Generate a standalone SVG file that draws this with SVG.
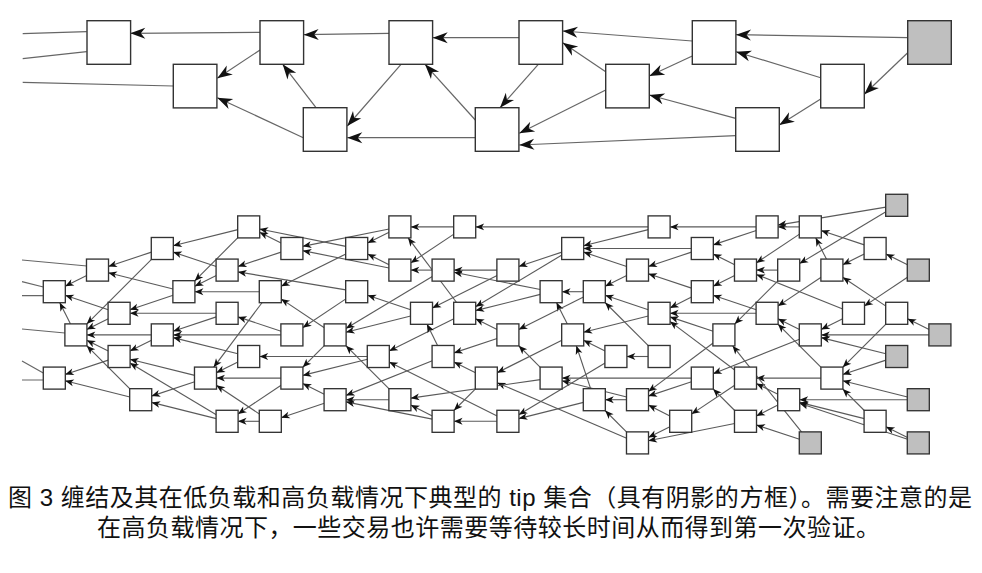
<svg xmlns="http://www.w3.org/2000/svg" width="982" height="573" viewBox="0 0 982 573">
<style>
  .box{fill:#fff;stroke:#333;stroke-width:1.4}
  .tip{fill:#bfbfbf}
  .e{stroke:#666;stroke-width:1.2;fill:none}
  .e.a{marker-end:url(#hb)}
  .sb{fill:#fff;stroke:#333;stroke-width:0.062}
  .sb.tip{fill:#bfbfbf}
  .se{stroke:#5a5a5a;stroke-width:0.052;fill:none;marker-end:url(#hs)}
  .cap{font-family:"Liberation Sans","Noto Sans CJK SC",sans-serif;font-size:24px;fill:#111}
</style>
<defs>
  <marker id="hb" markerUnits="userSpaceOnUse" orient="auto" markerWidth="16" markerHeight="12" style="overflow:visible">
    <path d="M0,0 L-15,-5.5 L-10.5,0 L-15,5.5 Z" fill="#111"/>
  </marker>
  <marker id="hs" markerUnits="userSpaceOnUse" orient="auto" markerWidth="1" markerHeight="1" style="overflow:visible">
    <path d="M0,0 L-0.4,-0.16 L-0.29,0 L-0.4,0.16 Z" fill="#111"/>
  </marker>
</defs>
<rect width="982" height="573" fill="#fff"/>

<!-- low load tangle: connectors -->
<g id="low-edges">
  <path class="e" d="M22.7,33.7 L86.7,31.7 M22.7,58.7 L86.7,51.7 M22.7,82.3 L173.3,86"/>
  <line class="e a" x1="260" y1="32.3" x2="130.3" y2="33.3"/>
  <line class="e a" x1="389" y1="33.3" x2="303.7" y2="34.7"/>
  <line class="e a" x1="519" y1="37.7" x2="432.7" y2="37.7"/>
  <line class="e a" x1="260" y1="50" x2="217.3" y2="78.3"/>
  <line class="e a" x1="303.3" y1="137.7" x2="217.3" y2="97.7"/>
  <line class="e a" x1="316" y1="107.7" x2="282.7" y2="64.3"/>
  <line class="e a" x1="401" y1="64.3" x2="347.3" y2="126"/>
  <line class="e a" x1="475.3" y1="120" x2="425" y2="64.3"/>
  <line class="e a" x1="475.3" y1="137.7" x2="347.3" y2="137.7"/>
  <line class="e a" x1="692.3" y1="41" x2="562.7" y2="31"/>
  <line class="e a" x1="907.7" y1="37.7" x2="736" y2="34.7"/>
  <line class="e a" x1="538.3" y1="64.3" x2="500" y2="107.7"/>
  <line class="e a" x1="605.7" y1="71.7" x2="562.7" y2="42.7"/>
  <line class="e a" x1="692.3" y1="56" x2="649.3" y2="76"/>
  <line class="e a" x1="605.7" y1="90" x2="519.3" y2="133.3"/>
  <line class="e a" x1="820.7" y1="77.7" x2="736" y2="51.7"/>
  <line class="e a" x1="907.7" y1="52.7" x2="864.3" y2="94.3"/>
  <line class="e a" x1="820.7" y1="99" x2="779.3" y2="125"/>
  <line class="e a" x1="735.7" y1="118.3" x2="649.3" y2="95"/>
  <line class="e a" x1="735.7" y1="135.7" x2="519.3" y2="145"/>
</g>

<!-- low load tangle: sites -->
<g id="low-nodes">
  <g id="a1"><rect class="box" x="87" y="20.7" width="43.6" height="43.6"/></g>
  <g id="a2"><rect class="box" x="260" y="20.7" width="43.6" height="43.6"/></g>
  <g id="a3"><rect class="box" x="389" y="20.7" width="43.6" height="43.6"/></g>
  <g id="a4"><rect class="box" x="173.3" y="64.3" width="43.6" height="43.6"/></g>
  <g id="a5"><rect class="box" x="303.3" y="107.7" width="43.6" height="43.6"/></g>
  <g id="a6"><rect class="box" x="475.3" y="107.7" width="43.6" height="43.6"/></g>
  <g id="a7"><rect class="box" x="519" y="20.7" width="43.6" height="43.6"/></g>
  <g id="a8"><rect class="box" x="605.7" y="64.3" width="43.6" height="43.6"/></g>
  <g id="a9"><rect class="box" x="692.3" y="20.7" width="43.6" height="43.6"/></g>
  <g id="a10"><rect class="box" x="735.7" y="107.7" width="43.6" height="43.6"/></g>
  <g id="a11"><rect class="box" x="820.7" y="64.3" width="43.6" height="43.6"/></g>
  <g id="a12"><rect class="box tip" x="907.7" y="20.7" width="43.6" height="43.6"/></g>
</g>

<!-- high load tangle: connectors (grid units, 1 unit = 21.6px) -->
<g id="high-edges">
  <path class="e" d="M22,260 L87,266 M22,281.7 L43.3,287 M22,295.7 L43.3,295.7 M22,329 L65,333 M22,361 L43.3,373 M22,380 L43.3,380"/>
  <g transform="translate(54.3 205.3) scale(21.6)">
    <line class="se" x1="38.5" y1="0.083" x2="33.5" y2="0.917"/>
    <line class="se" x1="38.5" y1="0.3" x2="34.5" y2="2.7"/>
    <line class="se" x1="34.5" y1="1" x2="33.5" y2="1"/>
    <line class="se" x1="34.5" y1="1.333" x2="32.5" y2="2.667"/>
    <line class="se" x1="32.5" y1="1" x2="28.5" y2="1"/>
    <line class="se" x1="32.5" y1="1.167" x2="30.5" y2="1.833"/>
    <line class="se" x1="37.5" y1="1.833" x2="35.5" y2="1.167"/>
    <line class="se" x1="37.5" y1="2.25" x2="36.5" y2="2.75"/>
    <line class="se" x1="35.75" y1="2.5" x2="35.25" y2="1.5"/>
    <line class="se" x1="35.5" y1="3.333" x2="33.5" y2="4.667"/>
    <line class="se" x1="33.5" y1="3" x2="32.5" y2="3"/>
    <line class="se" x1="33.5" y1="3.5" x2="31.5" y2="5.5"/>
    <line class="se" x1="39.5" y1="2.75" x2="38.5" y2="2.25"/>
    <line class="se" x1="39.5" y1="3.333" x2="37.5" y2="4.667"/>
    <line class="se" x1="31.5" y1="2.75" x2="30.5" y2="2.25"/>
    <line class="se" x1="31.5" y1="3.25" x2="30.5" y2="3.75"/>
    <line class="se" x1="36.5" y1="5.25" x2="35.5" y2="5.75"/>
    <line class="se" x1="36.5" y1="4.8" x2="32.5" y2="3.2"/>
    <line class="se" x1="38.5" y1="4.667" x2="36.5" y2="3.333"/>
    <line class="se" x1="38.5" y1="5.5" x2="36.5" y2="7.5"/>
    <line class="se" x1="40.5" y1="5.75" x2="39.5" y2="5.25"/>
    <line class="se" x1="40.5" y1="6" x2="35.5" y2="6"/>
    <line class="se" x1="34.5" y1="5.75" x2="33.5" y2="5.25"/>
    <line class="se" x1="34.5" y1="6.2" x2="30.5" y2="7.8"/>
    <line class="se" x1="38.5" y1="6.875" x2="35.5" y2="6.125"/>
    <line class="se" x1="38.5" y1="7.167" x2="36.5" y2="7.833"/>
    <line class="se" x1="35.5" y1="8" x2="32.5" y2="8"/>
    <line class="se" x1="35.5" y1="7.5" x2="33.5" y2="5.5"/>
    <line class="se" x1="39.5" y1="8.875" x2="36.5" y2="8.125"/>
    <line class="se" x1="39.5" y1="9" x2="34.5" y2="9"/>
    <line class="se" x1="33.5" y1="8.75" x2="32.5" y2="8.25"/>
    <line class="se" x1="33.5" y1="9.25" x2="32.5" y2="9.75"/>
    <line class="se" x1="37.5" y1="9.5" x2="36.5" y2="8.5"/>
    <line class="se" x1="37.5" y1="9.875" x2="34.5" y2="9.125"/>
    <line class="se" x1="39.5" y1="10.75" x2="38.5" y2="10.25"/>
    <line class="se" x1="39.5" y1="10.833" x2="34.5" y2="9.167"/>
    <line class="se" x1="34.5" y1="10.833" x2="32.5" y2="10.167"/>
    <line class="se" x1="34.6" y1="10.5" x2="31.4" y2="6.5"/>
    <line class="se" x1="32.5" y1="4.833" x2="30.5" y2="4.167"/>
    <line class="se" x1="32.5" y1="5" x2="28.5" y2="5"/>
    <line class="se" x1="29.5" y1="2.167" x2="27.5" y2="2.833"/>
    <line class="se" x1="29.5" y1="2" x2="24.5" y2="2"/>
    <line class="se" x1="29.5" y1="3.833" x2="27.5" y2="3.167"/>
    <line class="se" x1="29.5" y1="4.25" x2="28.5" y2="4.75"/>
    <line class="se" x1="27.5" y1="1" x2="19.5" y2="1"/>
    <line class="se" x1="27.5" y1="1.125" x2="24.5" y2="1.875"/>
    <line class="se" x1="30.5" y1="5.833" x2="28.5" y2="5.167"/>
    <line class="se" x1="30.5" y1="6.375" x2="27.5" y2="8.625"/>
    <line class="se" x1="31.5" y1="9.5" x2="30.5" y2="8.5"/>
    <line class="se" x1="31.5" y1="10.1" x2="27.5" y2="10.9"/>
    <line class="se" x1="31.5" y1="7.625" x2="28.5" y2="5.375"/>
    <line class="se" x1="31.5" y1="8.333" x2="29.5" y2="9.667"/>
    <line class="se" x1="29.5" y1="8" x2="23.5" y2="8"/>
    <line class="se" x1="29.5" y1="8.167" x2="27.5" y2="8.833"/>
    <line class="se" x1="28.5" y1="9.75" x2="27.5" y2="9.25"/>
    <line class="se" x1="28.5" y1="10.25" x2="27.5" y2="10.75"/>
    <line class="se" x1="26.5" y1="10.5" x2="25.5" y2="9.5"/>
    <line class="se" x1="26.5" y1="10.786" x2="20.5" y2="8.214"/>
    <line class="se" x1="26.5" y1="8.875" x2="23.5" y2="8.125"/>
    <line class="se" x1="26.5" y1="9" x2="25.5" y2="9"/>
    <line class="se" x1="27.5" y1="7" x2="26.5" y2="7"/>
    <line class="se" x1="27.5" y1="6.5" x2="25.5" y2="4.5"/>
    <line class="se" x1="25.5" y1="6.75" x2="24.5" y2="6.25"/>
    <line class="se" x1="25.5" y1="7.3" x2="21.5" y2="9.7"/>
    <line class="se" x1="24.5" y1="9.125" x2="21.5" y2="9.875"/>
    <line class="se" x1="24.833" y1="8.5" x2="24.167" y2="6.5"/>
    <line class="se" x1="23.75" y1="5.5" x2="23.25" y2="4.5"/>
    <line class="se" x1="23.5" y1="6.25" x2="20.5" y2="7.75"/>
    <line class="se" x1="22.5" y1="7.5" x2="21.5" y2="6.5"/>
    <line class="se" x1="22.5" y1="8.071" x2="16.5" y2="8.929"/>
    <line class="se" x1="20.5" y1="5.75" x2="19.5" y2="5.25"/>
    <line class="se" x1="20.5" y1="6.167" x2="18.5" y2="6.833"/>
    <line class="se" x1="19.5" y1="7.75" x2="18.5" y2="7.25"/>
    <line class="se" x1="19.5" y1="8.5" x2="18.5" y2="9.5"/>
    <line class="se" x1="20.5" y1="10" x2="18.5" y2="10"/>
    <line class="se" x1="20.5" y1="9.75" x2="15.5" y2="7.25"/>
    <line class="se" x1="17.5" y1="9.75" x2="16.5" y2="9.25"/>
    <line class="se" x1="17.5" y1="9.9" x2="13.5" y2="9.1"/>
    <line class="se" x1="15.5" y1="9" x2="13.5" y2="9"/>
    <line class="se" x1="15.5" y1="8.5" x2="13.5" y2="6.5"/>
    <line class="se" x1="12.5" y1="8.75" x2="11.5" y2="8.25"/>
    <line class="se" x1="12.5" y1="9.167" x2="10.5" y2="9.833"/>
    <line class="se" x1="14.5" y1="7" x2="9.5" y2="7"/>
    <line class="se" x1="14.5" y1="7.125" x2="11.5" y2="7.875"/>
    <line class="se" x1="18.625" y1="4.5" x2="16.375" y2="1.5"/>
    <line class="se" x1="18.5" y1="5.25" x2="15.5" y2="6.75"/>
    <line class="se" x1="17.75" y1="6.5" x2="17.25" y2="5.5"/>
    <line class="se" x1="17.5" y1="7.2" x2="13.5" y2="8.8"/>
    <line class="se" x1="16.5" y1="4.833" x2="14.5" y2="4.167"/>
    <line class="se" x1="16.5" y1="5.125" x2="13.5" y2="5.875"/>
    <line class="se" x1="17.5" y1="3" x2="16.5" y2="3"/>
    <line class="se" x1="17.5" y1="3.3" x2="13.5" y2="5.7"/>
    <line class="se" x1="20.5" y1="3" x2="18.5" y2="3"/>
    <line class="se" x1="20.5" y1="3.25" x2="17.5" y2="4.75"/>
    <line class="se" x1="22.5" y1="3.9" x2="18.5" y2="3.1"/>
    <line class="se" x1="22.5" y1="4.125" x2="19.5" y2="4.875"/>
    <line class="se" x1="23.5" y1="2.167" x2="21.5" y2="2.833"/>
    <line class="se" x1="23.5" y1="2.3" x2="19.5" y2="4.7"/>
    <line class="se" x1="24.5" y1="4" x2="23.5" y2="4"/>
    <line class="se" x1="24.5" y1="4.25" x2="21.5" y2="5.75"/>
    <line class="se" x1="26.5" y1="2.833" x2="24.5" y2="2.167"/>
    <line class="se" x1="26.5" y1="3.25" x2="25.5" y2="3.75"/>
    <line class="se" x1="27.5" y1="4.833" x2="25.5" y2="4.167"/>
    <line class="se" x1="27.5" y1="5.125" x2="24.5" y2="5.875"/>
    <line class="se" x1="18.5" y1="1" x2="16.5" y2="1"/>
    <line class="se" x1="18.5" y1="1.333" x2="16.5" y2="2.667"/>
    <line class="se" x1="15.5" y1="1.1" x2="11.5" y2="1.9"/>
    <line class="se" x1="15.5" y1="1.25" x2="14.5" y2="1.75"/>
    <line class="se" x1="15.5" y1="2.9" x2="11.5" y2="2.1"/>
    <line class="se" x1="15.5" y1="2.75" x2="14.5" y2="2.25"/>
    <line class="se" x1="13.5" y1="1.9" x2="9.5" y2="1.1"/>
    <line class="se" x1="13.5" y1="2.25" x2="10.5" y2="3.75"/>
    <line class="se" x1="10.5" y1="1.75" x2="9.5" y2="1.25"/>
    <line class="se" x1="10.5" y1="2.167" x2="8.5" y2="2.833"/>
    <line class="se" x1="13.5" y1="3.917" x2="8.5" y2="3.083"/>
    <line class="se" x1="13.5" y1="4.333" x2="11.5" y2="5.667"/>
    <line class="se" x1="12.5" y1="6.5" x2="11.5" y2="7.5"/>
    <line class="se" x1="12.5" y1="5.667" x2="10.5" y2="4.333"/>
    <line class="se" x1="10.5" y1="5.833" x2="8.5" y2="5.167"/>
    <line class="se" x1="10.5" y1="6" x2="5.5" y2="6"/>
    <line class="se" x1="10.5" y1="8" x2="7.5" y2="8"/>
    <line class="se" x1="10.5" y1="8.333" x2="8.5" y2="9.667"/>
    <line class="se" x1="9.5" y1="10" x2="8.5" y2="10"/>
    <line class="se" x1="9.5" y1="9.667" x2="7.5" y2="8.333"/>
    <line class="se" x1="9.5" y1="4" x2="6.5" y2="4"/>
    <line class="se" x1="9.625" y1="4.5" x2="7.375" y2="7.5"/>
    <line class="se" x1="8.5" y1="6.875" x2="5.5" y2="6.125"/>
    <line class="se" x1="8.5" y1="7.25" x2="7.5" y2="7.75"/>
    <line class="se" x1="7.5" y1="2.833" x2="5.5" y2="2.167"/>
    <line class="se" x1="7.5" y1="3.25" x2="6.5" y2="3.75"/>
    <line class="se" x1="8.5" y1="1.125" x2="5.5" y2="1.875"/>
    <line class="se" x1="8.5" y1="1.5" x2="6.5" y2="3.5"/>
    <line class="se" x1="7.5" y1="5" x2="3.5" y2="5"/>
    <line class="se" x1="7.5" y1="5.167" x2="5.5" y2="5.833"/>
    <line class="se" x1="4.5" y1="2.167" x2="2.5" y2="2.833"/>
    <line class="se" x1="4.5" y1="2.5" x2="1.5" y2="5.5"/>
    <line class="se" x1="5.5" y1="3.875" x2="2.5" y2="3.125"/>
    <line class="se" x1="5.5" y1="4.167" x2="3.5" y2="4.833"/>
    <line class="se" x1="2.5" y1="4.833" x2="0.5" y2="4.167"/>
    <line class="se" x1="2.5" y1="5.25" x2="1.5" y2="5.75"/>
    <line class="se" x1="1.5" y1="3.25" x2="0.5" y2="3.75"/>
    <line class="se" x1="0.75" y1="5.5" x2="0.25" y2="4.5"/>
    <line class="se" x1="4.5" y1="6" x2="1.5" y2="6"/>
    <line class="se" x1="4.5" y1="6.25" x2="3.5" y2="6.75"/>
    <line class="se" x1="2.5" y1="6.75" x2="1.5" y2="6.25"/>
    <line class="se" x1="2.5" y1="7.167" x2="0.5" y2="7.833"/>
    <line class="se" x1="6.5" y1="7.875" x2="3.5" y2="7.125"/>
    <line class="se" x1="6.5" y1="8.167" x2="4.5" y2="8.833"/>
    <line class="se" x1="3.5" y1="8.875" x2="0.5" y2="8.125"/>
    <line class="se" x1="3.5" y1="8.5" x2="1.5" y2="6.5"/>
    <line class="se" x1="7.5" y1="9.875" x2="4.5" y2="9.125"/>
    <line class="se" x1="7.5" y1="9.7" x2="3.5" y2="7.3"/>
  </g>
</g>

<!-- high load tangle: sites (grid units) -->
<g id="high-nodes" transform="translate(54.3 205.3) scale(21.6)">
  <g id="b39_0"><rect class="sb tip" x="38.49" y="-0.51" width="1.02" height="1.02"/></g>
  <g id="b9_1"><rect class="sb" x="8.49" y="0.49" width="1.02" height="1.02"/></g>
  <g id="b16_1"><rect class="sb" x="15.49" y="0.49" width="1.02" height="1.02"/></g>
  <g id="b19_1"><rect class="sb" x="18.49" y="0.49" width="1.02" height="1.02"/></g>
  <g id="b28_1"><rect class="sb" x="27.49" y="0.49" width="1.02" height="1.02"/></g>
  <g id="b33_1"><rect class="sb" x="32.49" y="0.49" width="1.02" height="1.02"/></g>
  <g id="b35_1"><rect class="sb" x="34.49" y="0.49" width="1.02" height="1.02"/></g>
  <g id="b5_2"><rect class="sb" x="4.49" y="1.49" width="1.02" height="1.02"/></g>
  <g id="b11_2"><rect class="sb" x="10.49" y="1.49" width="1.02" height="1.02"/></g>
  <g id="b14_2"><rect class="sb" x="13.49" y="1.49" width="1.02" height="1.02"/></g>
  <g id="b24_2"><rect class="sb" x="23.49" y="1.49" width="1.02" height="1.02"/></g>
  <g id="b30_2"><rect class="sb" x="29.49" y="1.49" width="1.02" height="1.02"/></g>
  <g id="b38_2"><rect class="sb" x="37.49" y="1.49" width="1.02" height="1.02"/></g>
  <g id="b2_3"><rect class="sb" x="1.49" y="2.49" width="1.02" height="1.02"/></g>
  <g id="b8_3"><rect class="sb" x="7.49" y="2.49" width="1.02" height="1.02"/></g>
  <g id="b16_3"><rect class="sb" x="15.49" y="2.49" width="1.02" height="1.02"/></g>
  <g id="b18_3"><rect class="sb" x="17.49" y="2.49" width="1.02" height="1.02"/></g>
  <g id="b21_3"><rect class="sb" x="20.49" y="2.49" width="1.02" height="1.02"/></g>
  <g id="b27_3"><rect class="sb" x="26.49" y="2.49" width="1.02" height="1.02"/></g>
  <g id="b32_3"><rect class="sb" x="31.49" y="2.49" width="1.02" height="1.02"/></g>
  <g id="b34_3"><rect class="sb" x="33.49" y="2.49" width="1.02" height="1.02"/></g>
  <g id="b36_3"><rect class="sb" x="35.49" y="2.49" width="1.02" height="1.02"/></g>
  <g id="b40_3"><rect class="sb tip" x="39.49" y="2.49" width="1.02" height="1.02"/></g>
  <g id="b0_4"><rect class="sb" x="-0.51" y="3.49" width="1.02" height="1.02"/></g>
  <g id="b6_4"><rect class="sb" x="5.49" y="3.49" width="1.02" height="1.02"/></g>
  <g id="b10_4"><rect class="sb" x="9.49" y="3.49" width="1.02" height="1.02"/></g>
  <g id="b14_4"><rect class="sb" x="13.49" y="3.49" width="1.02" height="1.02"/></g>
  <g id="b23_4"><rect class="sb" x="22.49" y="3.49" width="1.02" height="1.02"/></g>
  <g id="b25_4"><rect class="sb" x="24.49" y="3.49" width="1.02" height="1.02"/></g>
  <g id="b30_4"><rect class="sb" x="29.49" y="3.49" width="1.02" height="1.02"/></g>
  <g id="b3_5"><rect class="sb" x="2.49" y="4.49" width="1.02" height="1.02"/></g>
  <g id="b8_5"><rect class="sb" x="7.49" y="4.49" width="1.02" height="1.02"/></g>
  <g id="b17_5"><rect class="sb" x="16.49" y="4.49" width="1.02" height="1.02"/></g>
  <g id="b19_5"><rect class="sb" x="18.49" y="4.49" width="1.02" height="1.02"/></g>
  <g id="b28_5"><rect class="sb" x="27.49" y="4.49" width="1.02" height="1.02"/></g>
  <g id="b33_5"><rect class="sb" x="32.49" y="4.49" width="1.02" height="1.02"/></g>
  <g id="b37_5"><rect class="sb" x="36.49" y="4.49" width="1.02" height="1.02"/></g>
  <g id="b39_5"><rect class="sb" x="38.49" y="4.49" width="1.02" height="1.02"/></g>
  <g id="b1_6"><rect class="sb" x="0.49" y="5.49" width="1.02" height="1.02"/></g>
  <g id="b5_6"><rect class="sb" x="4.49" y="5.49" width="1.02" height="1.02"/></g>
  <g id="b11_6"><rect class="sb" x="10.49" y="5.49" width="1.02" height="1.02"/></g>
  <g id="b13_6"><rect class="sb" x="12.49" y="5.49" width="1.02" height="1.02"/></g>
  <g id="b21_6"><rect class="sb" x="20.49" y="5.49" width="1.02" height="1.02"/></g>
  <g id="b24_6"><rect class="sb" x="23.49" y="5.49" width="1.02" height="1.02"/></g>
  <g id="b31_6"><rect class="sb" x="30.49" y="5.49" width="1.02" height="1.02"/></g>
  <g id="b35_6"><rect class="sb" x="34.49" y="5.49" width="1.02" height="1.02"/></g>
  <g id="b41_6"><rect class="sb tip" x="40.49" y="5.49" width="1.02" height="1.02"/></g>
  <g id="b3_7"><rect class="sb" x="2.49" y="6.49" width="1.02" height="1.02"/></g>
  <g id="b9_7"><rect class="sb" x="8.49" y="6.49" width="1.02" height="1.02"/></g>
  <g id="b15_7"><rect class="sb" x="14.49" y="6.49" width="1.02" height="1.02"/></g>
  <g id="b18_7"><rect class="sb" x="17.49" y="6.49" width="1.02" height="1.02"/></g>
  <g id="b26_7"><rect class="sb" x="25.49" y="6.49" width="1.02" height="1.02"/></g>
  <g id="b28_7"><rect class="sb" x="27.49" y="6.49" width="1.02" height="1.02"/></g>
  <g id="b39_7"><rect class="sb tip" x="38.49" y="6.49" width="1.02" height="1.02"/></g>
  <g id="b0_8"><rect class="sb" x="-0.51" y="7.49" width="1.02" height="1.02"/></g>
  <g id="b7_8"><rect class="sb" x="6.49" y="7.49" width="1.02" height="1.02"/></g>
  <g id="b11_8"><rect class="sb" x="10.49" y="7.49" width="1.02" height="1.02"/></g>
  <g id="b20_8"><rect class="sb" x="19.49" y="7.49" width="1.02" height="1.02"/></g>
  <g id="b23_8"><rect class="sb" x="22.49" y="7.49" width="1.02" height="1.02"/></g>
  <g id="b30_8"><rect class="sb" x="29.49" y="7.49" width="1.02" height="1.02"/></g>
  <g id="b32_8"><rect class="sb" x="31.49" y="7.49" width="1.02" height="1.02"/></g>
  <g id="b36_8"><rect class="sb" x="35.49" y="7.49" width="1.02" height="1.02"/></g>
  <g id="b4_9"><rect class="sb" x="3.49" y="8.49" width="1.02" height="1.02"/></g>
  <g id="b13_9"><rect class="sb" x="12.49" y="8.49" width="1.02" height="1.02"/></g>
  <g id="b16_9"><rect class="sb" x="15.49" y="8.49" width="1.02" height="1.02"/></g>
  <g id="b25_9"><rect class="sb" x="24.49" y="8.49" width="1.02" height="1.02"/></g>
  <g id="b27_9"><rect class="sb" x="26.49" y="8.49" width="1.02" height="1.02"/></g>
  <g id="b34_9"><rect class="sb" x="33.49" y="8.49" width="1.02" height="1.02"/></g>
  <g id="b40_9"><rect class="sb tip" x="39.49" y="8.49" width="1.02" height="1.02"/></g>
  <g id="b8_10"><rect class="sb" x="7.49" y="9.49" width="1.02" height="1.02"/></g>
  <g id="b10_10"><rect class="sb" x="9.49" y="9.49" width="1.02" height="1.02"/></g>
  <g id="b18_10"><rect class="sb" x="17.49" y="9.49" width="1.02" height="1.02"/></g>
  <g id="b21_10"><rect class="sb" x="20.49" y="9.49" width="1.02" height="1.02"/></g>
  <g id="b29_10"><rect class="sb" x="28.49" y="9.49" width="1.02" height="1.02"/></g>
  <g id="b32_10"><rect class="sb" x="31.49" y="9.49" width="1.02" height="1.02"/></g>
  <g id="b38_10"><rect class="sb" x="37.49" y="9.49" width="1.02" height="1.02"/></g>
  <g id="b27_11"><rect class="sb" x="26.49" y="10.49" width="1.02" height="1.02"/></g>
  <g id="b35_11"><rect class="sb tip" x="34.49" y="10.49" width="1.02" height="1.02"/></g>
  <g id="b40_11"><rect class="sb tip" x="39.49" y="10.49" width="1.02" height="1.02"/></g>
</g>

<!-- caption -->
<g id="caption">
  <text class="cap" x="8" y="506" textLength="964" lengthAdjust="spacing">图 3  缠结及其在低负载和高负载情况下典型的 tip 集合（具有阴影的方框）。需要注意的是</text>
  <text class="cap" x="97" y="536" textLength="783" lengthAdjust="spacing">在高负载情况下，一些交易也许需要等待较长时间从而得到第一次验证。</text>
</g>
</svg>
